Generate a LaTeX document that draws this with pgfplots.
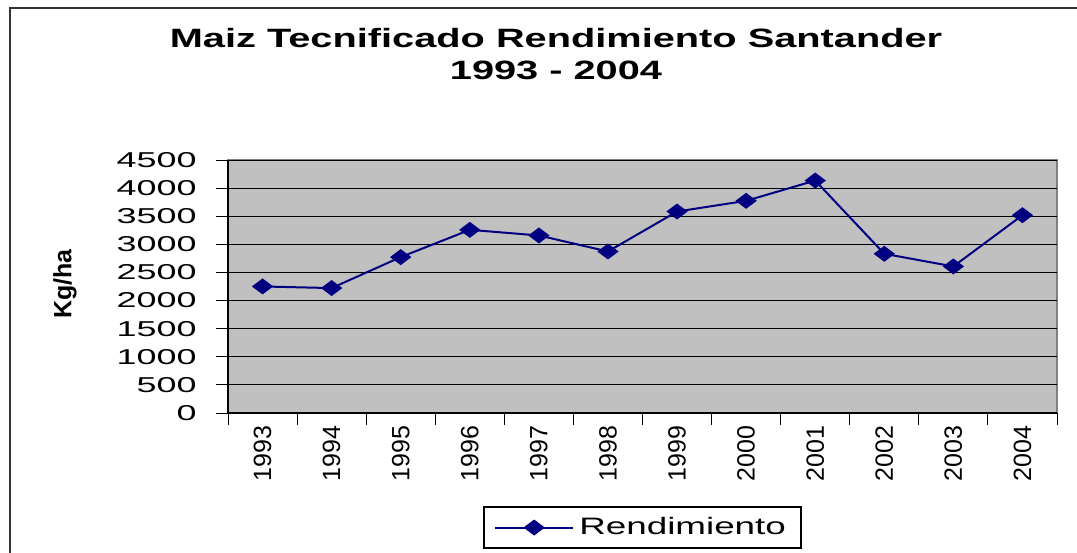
\documentclass[border=0pt]{standalone}
\usepackage{fontspec}
\setmainfont{Liberation Sans}
\usepackage{pgfplots}
\pgfplotsset{compat=1.18}
\definecolor{navy}{RGB}{0,0,128}
\definecolor{plotgray}{RGB}{192,192,192}
\definecolor{edgegray}{RGB}{128,128,128}

\begin{document}
\begin{tikzpicture}
\useasboundingbox (0,0) rectangle (430.8pt,220.8pt);
\fill[white] (0,0) rectangle (430.8pt,220.8pt);
\draw[line width=0.8pt, black!80] (3.8pt,-2pt) -- (3.8pt,217.6pt) -- (440pt,217.6pt);
\begin{axis}[
  at={(91.2pt,55.6pt)}, anchor=south west,
  scale only axis, width=331.6pt, height=101.2pt,
  xmin=0.5, xmax=12.5, ymin=0, ymax=4500, enlargelimits=false,
  axis x line*=bottom, axis y line*=left,
  axis line style={-, black, line width=0.5pt},
  axis background/.style={fill=plotgray, draw=edgegray, line width=0.5pt},
  ymajorgrids, grid style={black, line width=0.4pt},
  tick align=outside, major tick length=4.8pt,
  tick style={black, line width=0.4pt},
  ytick={0,500,...,4500},
  yticklabel={\scalebox{1.67}[1]{\pgfmathprintnumber[assume math mode=true,1000 sep={}]{\tick}}},
  yticklabel style={font=\fontsize{8.6}{10}\selectfont, inner sep=0pt, xshift=-7.6pt},
  xtick={0.5,1.5,...,12.5}, xticklabels={,,,,,,,,,,,,},
  extra x ticks={1,...,12},
  extra x tick labels={1993,1994,1995,1996,1997,1998,1999,2000,2001,2002,2003,2004},
  extra x tick style={major tick length=0pt, grid=none},
  xticklabel style={rotate=90, anchor=east, inner sep=0pt, font=\fontsize{10}{12}\selectfont},
  xticklabel shift=4.8pt,
  legend style={at={(0.5,-0.4526)}, anchor=center, draw=black, fill=white,
    line width=0.5pt, inner xsep=4pt, inner ysep=2pt,
    font=\fontsize{9.5}{11}\selectfont},
  legend image code/.code={\draw[mark repeat=2,mark phase=2,#1]
    plot coordinates {(0cm,0cm) (0.55cm,0cm) (1.1cm,0cm)};},
]
\addplot[navy, line width=0.8pt, mark=diamond*, mark size=3.6pt,
  mark options={rotate=90, solid, fill=navy}]
  coordinates {(1,2251) (2,2222) (3,2773) (4,3258) (5,3158) (6,2873)
    (7,3584) (8,3774) (9,4135) (10,2832) (11,2607) (12,3519)};
\addlegendentry{\scalebox{1.55}[1]{Rendimiento}}
\end{axis}
\node[font=\bfseries\fontsize{10.6}{12}\selectfont] at (222.4pt,205.6pt)
  {\scalebox{1.5}[1]{Maiz Tecnificado Rendimiento Santander}};
\node[font=\bfseries\fontsize{10.6}{12}\selectfont] at (222.4pt,192.8pt)
  {\scalebox{1.5}[1]{1993 - 2004}};
\node[rotate=90, font=\bfseries\fontsize{10}{12}\selectfont] at (26pt,107.2pt) {Kg/ha};
\end{tikzpicture}
\end{document}
